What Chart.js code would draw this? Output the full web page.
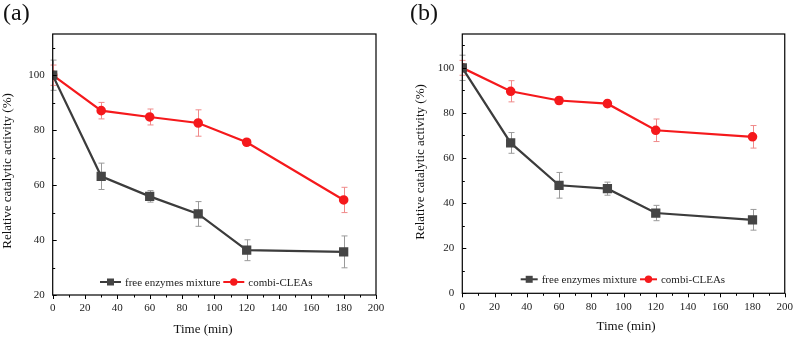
<!DOCTYPE html>
<html>
<head>
<meta charset="utf-8">
<script src="https://cdn.jsdelivr.net/npm/chart.js@4.4.1/dist/chart.umd.min.js"></script>
<style>
  html,body{margin:0;padding:0;background:#fff;}
  #wrap{position:relative;width:800px;height:338px;}
  .pane{position:absolute;top:0;width:400px;height:338px;}
</style>
</head>
<body>
<div id="wrap">
  <div class="pane" style="left:0"><canvas id="chartA" width="400" height="338"></canvas></div>
  <div class="pane" style="left:400px"><canvas id="chartB" width="400" height="338"></canvas></div>
</div>
<script>
// Relative catalytic activity vs time — two panels
const timeMin = [0, 30, 60, 90, 120, 180];

const freeA    = [100, 63.2, 55.9, 49.5, 36.3, 35.7];
const freeAErr = [5.5, 4.8, 2.1, 4.5, 3.8, 5.8];
const combiA    = [100, 87.1, 84.8, 82.6, 75.6, 54.6];
const combiAErr = [3.7, 3.0, 2.9, 4.8, 1.0, 4.6];

const freeB    = [100, 66.7, 47.9, 46.4, 35.6, 32.6];
const freeBErr = [5.6, 4.6, 5.7, 2.9, 3.4, 4.6];
const combiB    = [100, 89.6, 85.5, 84.1, 72.3, 69.4];
const combiBErr = [3.3, 4.7, 1.6, 1.5, 5.0, 5.0];

const xTicks = [0, 20, 40, 60, 80, 100, 120, 140, 160, 180, 200];
const seriesNames = ['free enzymes mixture', 'combi-CLEAs'];
const xTitle = 'Time (min)';
const yTitle = 'Relative catalytic activity (%)';

const SERIF = '"Liberation Serif", "Times New Roman", serif';
const DARK = '#3c3c3c', DARK_ERR = '#9a9a9a';
const RED = '#f5191c', RED_ERR = '#f08a8a';

const pts = (ys) => timeMin.map((t, i) => ({x: t, y: ys[i]}));

// error bars, box, ticks, legend, titles, panel tag
const decor = {
  id: 'decor',
  beforeDatasetsDraw(chart){
    const {ctx} = chart, xs = chart.scales.x, ys = chart.scales.y;
    chart.data.datasets.forEach(ds => {
      ctx.save();
      ctx.strokeStyle = ds.errColor; ctx.lineWidth = 1;
      ds.data.forEach((p, i) => {
        const e = ds.err[i];
        const px = Math.round(xs.getPixelForValue(p.x)) + 0.5;
        const y1 = ys.getPixelForValue(p.y + e), y2 = ys.getPixelForValue(p.y - e);
        ctx.beginPath();
        ctx.moveTo(px, y1); ctx.lineTo(px, y2);
        ctx.moveTo(px - 3, y1); ctx.lineTo(px + 3, y1);
        ctx.moveTo(px - 3, y2); ctx.lineTo(px + 3, y2);
        ctx.stroke();
      });
      ctx.restore();
    });
  },
  afterDraw(chart, args, o){
    const {ctx, chartArea: a} = chart, xs = chart.scales.x, ys = chart.scales.y;
    ctx.save();
    ctx.strokeStyle = '#000'; ctx.lineWidth = 1.2;
    ctx.strokeRect(a.left, a.top, a.right - a.left, a.bottom - a.top);
    ctx.lineWidth = 1;
    ctx.beginPath();
    for(let v = 0; v <= 200; v += 10){
      const px = Math.round(xs.getPixelForValue(v)) + 0.5;
      ctx.moveTo(px, a.bottom); ctx.lineTo(px, a.bottom + (v % 20 === 0 ? 4 : 2.5));
    }
    for(let v = ys.min; v <= ys.max; v += 10){
      const py = Math.round(ys.getPixelForValue(v)) + 0.5;
      ctx.moveTo(a.left, py); ctx.lineTo(a.left + (v % 20 === 0 ? 4 : 2.5), py);
    }
    ctx.stroke();

    // legend inside plot
    ctx.font = '11px ' + SERIF; ctx.textBaseline = 'middle'; ctx.textAlign = 'left';
    let x = o.legX;
    chart.data.datasets.forEach(ds => {
      ctx.strokeStyle = ds.borderColor; ctx.lineWidth = 2;
      ctx.beginPath(); ctx.moveTo(x, o.legY); ctx.lineTo(x + o.sample, o.legY); ctx.stroke();
      ctx.fillStyle = ds.pointBackgroundColor;
      if(ds.pointStyle === 'rect') ctx.fillRect(x + o.sample/2 - 3.5, o.legY - 3.5, 7, 7);
      else { ctx.beginPath(); ctx.arc(x + o.sample/2, o.legY, 3.7, 0, Math.PI*2); ctx.fill(); }
      ctx.fillStyle = '#222';
      ctx.fillText(ds.label, x + o.sample + 4, o.legY + 1);
      x += o.sample + 4 + ctx.measureText(ds.label).width + 3;
    });

    // axis titles
    ctx.fillStyle = '#111'; ctx.textAlign = 'center';
    ctx.font = '13px ' + SERIF;
    ctx.fillText(xTitle, o.xTitleX, o.xTitleY);
    ctx.save();
    ctx.translate(o.yTitleX, o.yTitleY); ctx.rotate(-Math.PI / 2);
    ctx.fillText(yTitle, 0, 0);
    ctx.restore();

    ctx.font = '24px ' + SERIF; ctx.textBaseline = 'top'; ctx.textAlign = 'left';
    ctx.fillText(o.tag, o.tagX, 2);
    ctx.restore();
  }
};

function makeChart(id, free, freeErr, combi, combiErr, cfg){
  return new Chart(document.getElementById(id), {
    type: 'line',
    data: { datasets: [
      { label: seriesNames[0], data: pts(free), err: freeErr, errColor: DARK_ERR,
        borderColor: DARK, backgroundColor: DARK, pointBackgroundColor: '#454545', pointBorderColor: '#454545',
        pointStyle: 'rect', pointRadius: 5, borderWidth: 2.2, tension: 0 },
      { label: seriesNames[1], data: pts(combi), err: combiErr, errColor: RED_ERR,
        borderColor: RED, backgroundColor: RED, pointBackgroundColor: RED, pointBorderColor: RED,
        pointStyle: 'circle', pointRadius: 3.7, borderWidth: 2.2, tension: 0 },
    ]},
    options: {
      responsive: false, animation: false,
      layout: { padding: { left: 0, right: cfg.padRight, top: 34, bottom: 0 } },
      plugins: { legend: {display: false}, tooltip: {enabled: false},
        decor: cfg.decor },
      scales: {
        x: { type: 'linear', min: 0, max: 200,
          afterBuildTicks: (s) => { s.ticks = xTicks.map(v => ({value: v})); },
          afterFit: (s) => { s.height = cfg.xHeight; },
          grid: {display: false, drawTicks: false}, border: {display: false},
          ticks: { color: '#222', font: {family: SERIF, size: 11}, padding: 7, maxRotation: 0 } },
        y: { min: cfg.yMin, max: 115,
          afterBuildTicks: (s) => { s.ticks = cfg.yTicks.map(v => ({value: v})); },
          afterFit: (s) => { s.width = cfg.yWidth; },
          grid: {display: false, drawTicks: false}, border: {display: false},
          ticks: { color: '#222', font: {family: SERIF, size: 11}, padding: 8 } },
      }
    },
    plugins: [decor]
  });
}

makeChart('chartA', freeA, freeAErr, combiA, combiAErr, {
  padRight: 24, xHeight: 43, yWidth: 52.7, yMin: 20, yTicks: [20, 40, 60, 80, 100],
  decor: { legX: 100, legY: 282, sample: 21, tag: '(a)', tagX: 3,
    xTitleX: 203, xTitleY: 330, yTitleX: 8, yTitleY: 171 } });
makeChart('chartB', freeB, freeBErr, combiB, combiBErr, {
  padRight: 9.3, xHeight: 44.7, yWidth: 62.3, yMin: 0, yTicks: [0, 20, 40, 60, 80, 100],
  decor: { legX: 120.7, legY: 279.3, sample: 17, tag: '(b)', tagX: 10,
    xTitleX: 226, xTitleY: 327, yTitleX: 21, yTitleY: 162 } });
</script>
</body>
</html>
